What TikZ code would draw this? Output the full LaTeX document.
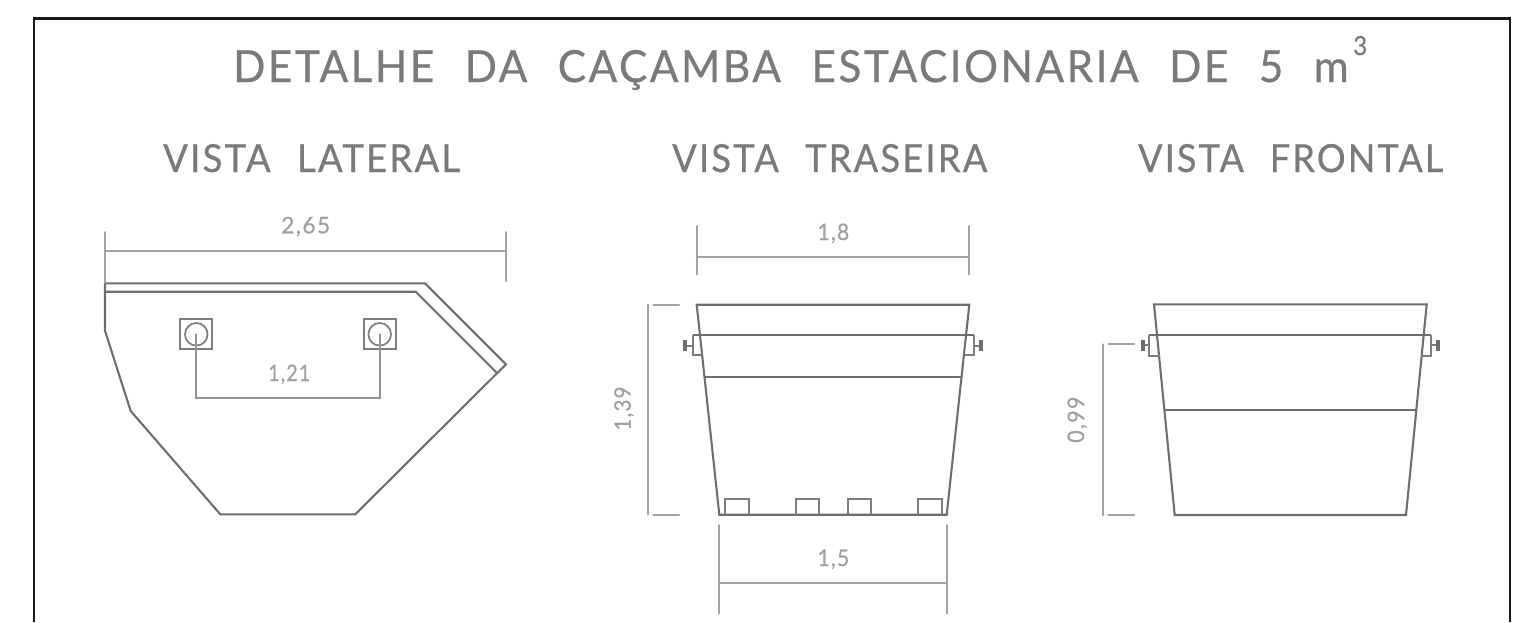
\documentclass[tikz,border=0pt]{standalone}
\usepackage{fontspec}
\usepackage{graphicx}
\setmainfont[LetterSpace=6,FakeBold=0.6]{Lato}
\definecolor{obj}{HTML}{6E6E6E}
\definecolor{dimc}{HTML}{A3A3A3}
\definecolor{ttl}{HTML}{7A7A7A}
\definecolor{dimt}{HTML}{A0A0A0}
\newcommand{\gap}{\hspace{0.72em}}
% name, x, y(baseline), width, height, text
\newcommand{\ttlabel}[6]{\node[titletext,anchor=base west] (#1) at (#2,#3) {\resizebox{#4pt}{#5pt}{#6}};}
\newcommand{\dimlabel}[6]{\node[dimtext,anchor=base west] (#1) at (#2,#3) {\resizebox{#4pt}{#5pt}{#6}};}
\newcommand{\vdimlabel}[6]{\node[dimtext,anchor=base west,rotate=90] (#1) at (#2,#3) {\resizebox{#4pt}{#5pt}{#6}};}
\begin{document}
\begin{tikzpicture}[x=1pt,y=-1pt,
  objline/.style={draw=obj,line width=2.1pt,line join=miter},
  thinobj/.style={draw=obj!90,line width=1.7pt},
  dimline/.style={draw=dimc,line width=2pt,line cap=round},
  titletext/.style={inner sep=0pt,text=ttl},
  dimtext/.style={inner sep=0pt,text=dimt}]
\useasboundingbox (0,0) rectangle (1528,622);
% frame
\draw[black!90,line width=2.2pt] (34,622) -- (34,18.5) -- (1510,18.5) -- (1510,622);
% titles
\ttlabel{t0}{233}{82}{1115}{32}{DETALHE\gap DA\gap CAÇAMBA\gap ESTACIONARIA\gap DE\gap 5\gap m}
\ttlabel{t0b}{1353}{55}{14}{19}{3}
\ttlabel{t1}{163}{172}{297}{28}{VISTA\gap LATERAL}
\ttlabel{t2}{672}{172}{315}{28}{VISTA\gap TRASEIRA}
\ttlabel{t3}{1138}{172}{305}{28}{VISTA\gap FRONTAL}
% --- lateral view
\draw[objline] (105,283.3) -- (425,283.3) -- (506,364.3) -- (355.3,514.3) -- (220.3,514.3) -- (130.7,411) -- (105,330.7) -- cycle;
\draw[objline] (105,291.7) -- (415.7,291.7) -- (496.7,372.7);
\draw[thinobj] (180,319.3) rectangle (212.3,348.7);
\draw[thinobj] (363.7,319.3) rectangle (395.7,348.7);
\draw[thinobj] (196.3,334.3) circle (11.3);
\draw[thinobj] (379.7,334.3) circle (11.3);
\coordinate (a1) at (105,250.7); \coordinate (a2) at (506,250.7);
\coordinate (a1t) at (105,232); \coordinate (a1b) at (105,283);
\coordinate (a2t) at (506,232); \coordinate (a2b) at (506,281);
\draw[dimline] (a1) -- (a2);
\draw[dimline] (a1t) -- (a1b);
\draw[dimline] (a2t) -- (a2b);
\dimlabel{d265}{281}{233.3}{49}{16.5}{2,65}
\coordinate (b1) at (196.3,334.3); \coordinate (b2) at (379.7,334.3);
\coordinate (b3) at (379.7,397.7); \coordinate (b4) at (196.3,397.7);
\draw[dimline,draw=dimc!90!black] (b1) -- (b4) -- (b3) -- (b2);
\dimlabel{d121}{268}{381}{42}{16.5}{1,21}
% --- rear view
\draw[objline] (696.7,304.7) -- (969.3,304.7) -- (946.7,514.7) -- (719.3,514.7) -- cycle;
\draw[objline,line width=2.4pt] (692.7,335) -- (974,335);
\draw[objline] (705,376.7) -- (961.7,376.7);
\draw[thinobj] (692.7,335) -- (692.7,355.3) -- (701,355.3);
\draw[thinobj] (974,335) -- (974,355.3) -- (965,355.3);
\draw[thinobj] (692.7,345.7) -- (685,345.7);
\draw[objline,line width=3.6pt] (685,340) -- (685,351.3);
\draw[thinobj] (974,345.7) -- (981,345.7);
\draw[objline,line width=3.6pt] (981,340) -- (981,351.3);
\foreach \xa/\xb in {725.3/748.7,795.7/819.3,847.7/871,918/941.7}
  \draw[thinobj] (\xa,514.7) -- (\xa,499) -- (\xb,499) -- (\xb,514.7);
\coordinate (c1) at (696.7,256.7); \coordinate (c2) at (969.3,256.7);
\coordinate (c1t) at (696.7,226); \coordinate (c1b) at (696.7,274.3);
\coordinate (c2t) at (969.3,226); \coordinate (c2b) at (969.3,274.3);
\draw[dimline] (c1) -- (c2);
\draw[dimline] (c1t) -- (c1b);
\draw[dimline] (c2t) -- (c2b);
\dimlabel{d18}{817.3}{240}{31.7}{16.5}{1,8}
\coordinate (e1) at (719.3,582.7); \coordinate (e2) at (946.7,582.7);
\coordinate (e1t) at (719.3,525); \coordinate (e1b) at (719.3,613.3);
\coordinate (e2t) at (946.7,525); \coordinate (e2b) at (946.7,613.3);
\draw[dimline] (e1) -- (e2);
\draw[dimline] (e1t) -- (e1b);
\draw[dimline] (e2t) -- (e2b);
\dimlabel{d15}{817.3}{566}{31.7}{16.5}{1,5}
\coordinate (f1) at (648,304.7); \coordinate (f2) at (648,514.7);
\coordinate (f1a) at (653.3,304.7); \coordinate (f1b) at (679,304.7);
\coordinate (f2a) at (653.3,514.7); \coordinate (f2b) at (679,514.7);
\draw[dimline] (f1) -- (f2);
\draw[dimline] (f1a) -- (f1b);
\draw[dimline] (f2a) -- (f2b);
\vdimlabel{d139}{630.7}{430.7}{44}{16.5}{1,39}
% --- front view
\draw[objline] (1154,304.3) -- (1426.7,304.3) -- (1406,515) -- (1174.7,515) -- cycle;
\draw[objline,line width=2.4pt] (1149.3,335) -- (1431.3,335);
\draw[objline] (1165,409.7) -- (1415.7,409.7);
\draw[thinobj] (1149.3,335) -- (1149.3,355.7) -- (1160,355.7);
\draw[thinobj] (1431.3,335) -- (1431.3,355.7) -- (1421,355.7);
\draw[thinobj] (1149.3,345) -- (1142.7,345);
\draw[objline,line width=3.6pt] (1142.7,339.5) -- (1142.7,350.5);
\draw[thinobj] (1431.3,345) -- (1438,345);
\draw[objline,line width=3.6pt] (1438,339.5) -- (1438,350.5);
\coordinate (g1) at (1103,344.3); \coordinate (g2) at (1103,515);
\coordinate (g1a) at (1108.3,344.3); \coordinate (g1b) at (1134,344.3);
\coordinate (g2a) at (1108.3,515); \coordinate (g2b) at (1134,515);
\draw[dimline] (g1) -- (g2);
\draw[dimline] (g1a) -- (g1b);
\draw[dimline] (g2a) -- (g2b);
\vdimlabel{d099}{1084}{443}{46.3}{16.5}{0,99}
\end{tikzpicture}
\end{document}
